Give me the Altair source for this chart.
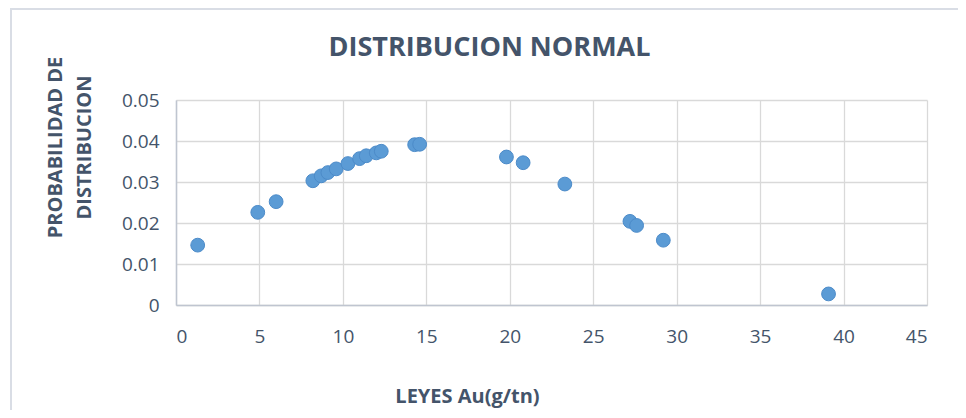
import altair as alt
import pandas as pd

leyes = [1.3, 4.9, 6.0, 8.2, 8.7, 9.1, 9.6, 10.3, 11.0, 11.4, 12.0, 12.3,
         14.3, 14.6, 19.8, 20.8, 23.3, 27.2, 27.6, 29.2, 39.1]
prob = [0.0146, 0.0226, 0.0252, 0.0303, 0.0315, 0.0323, 0.0332, 0.0345,
        0.0357, 0.0364, 0.0371, 0.0375, 0.0391, 0.0392, 0.0361, 0.0347,
        0.0295, 0.0204, 0.0194, 0.0158, 0.0027]

df = pd.DataFrame({"x": leyes, "y": prob})

TXT = "#44546A"
FONT = "Open Sans"

points = alt.Chart(df).mark_circle(
    size=190, color="#5B9BD5", opacity=1, stroke="#4C8BC9", strokeWidth=1
).encode(
    x=alt.X("x:Q",
            scale=alt.Scale(domain=[0, 45], nice=False, zero=True),
            axis=alt.Axis(values=list(range(0, 50, 5)), title="LEYES Au(g/tn)",
                          titleX=291, titleY=91, titleBaseline="middle",
                          titleAlign="center", labelPadding=22)),
    y=alt.Y("y:Q",
            scale=alt.Scale(domain=[0, 0.05], nice=False),
            axis=alt.Axis(values=[0, 0.01, 0.02, 0.03, 0.04, 0.05],
                          format="~g",
                          title=["PROBABILIDAD DE", "DISTRIBUCION"],
                          titleX=-121, titleY=47, titleAngle=270,
                          titleAlign="center", titleBaseline="middle",
                          titleLineHeight=29, labelPadding=17)),
)

border = alt.Chart(df).mark_rect(
    fill=None, stroke="#D9DDE5", strokeWidth=1.5
).encode(
    x=alt.value(-165), x2=alt.value(820),
    y=alt.value(-91), y2=alt.value(330),
)

chart = alt.layer(border, points).properties(
    width=751, height=205,
    background="white",
    autosize=alt.AutoSizeParams(type="none"),
    padding={"left": 168, "top": 92, "right": 31, "bottom": 105},
    title=alt.TitleParams(
        "DISTRIBUCION NORMAL", anchor="middle", dx=-62, offset=0, dy=75,
        baseline="alphabetic",
        font=FONT, fontSize=27, fontWeight="bold", color=TXT,
    ),
).configure_axis(
    labelFont=FONT, labelFontSize=19, labelColor=TXT,
    titleFont=FONT, titleFontSize=20, titleFontWeight="bold", titleColor=TXT,
    gridColor="#D9D9D9", gridWidth=1.3,
    domainColor="#BFC5D0", domainWidth=1.5,
    ticks=False,
).configure_view(stroke=None)

chart.save("out.html", embed_options={"renderer": "svg", "actions": False})
